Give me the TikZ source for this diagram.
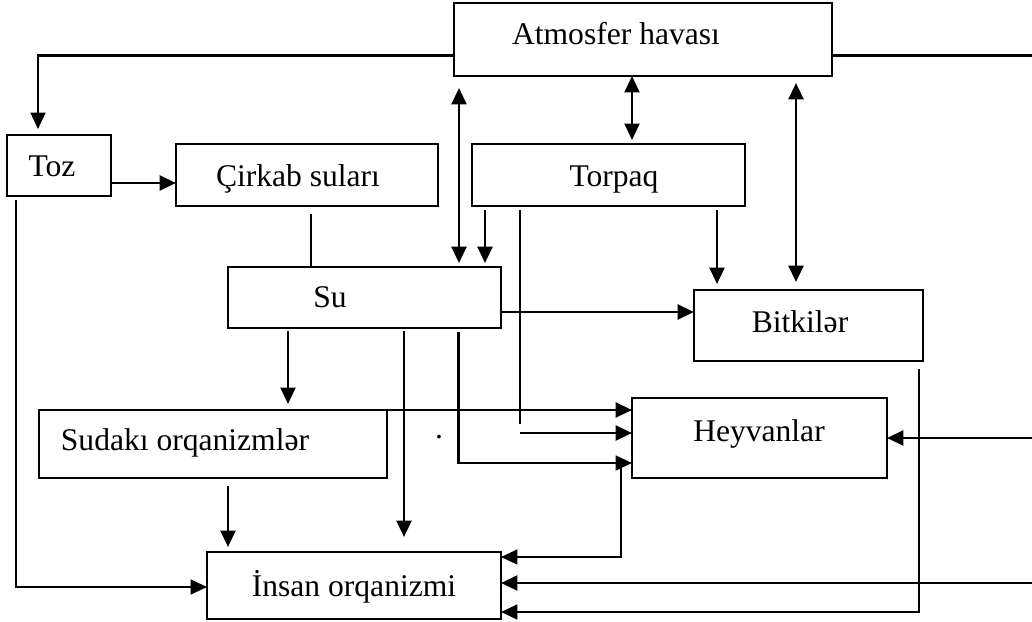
\documentclass[tikz,border=0pt]{standalone}
\usepackage{fontspec}
\setmainfont{Liberation Serif}
\usetikzlibrary{arrows.meta, calc}

\tikzset{sz/.style 2 args={minimum width=#1*0.38pt, minimum height=#2*0.38pt}}

\begin{document}
\begin{tikzpicture}[
  x=0.38pt, y=-0.38pt,
  >={Triangle[length=6.2pt, width=5.6pt]},
  font=\fontsize{12}{14}\selectfont,
  box/.style={draw, line width=0.8pt, inner sep=0pt, outer sep=0pt},
  lbl/.style={anchor=base, inner sep=0pt},
  arr/.style={->, line width=1.1pt},
  dbl/.style={<->, line width=1.1pt},
  plain/.style={line width=0.8pt}
]
\useasboundingbox (0,0) rectangle (1032,622);

% boxes
\node[box, sz={378}{73}] (atm) at (643,39.5) {};
\node[box, sz={104}{61}] (toz) at (59,165.5) {};
\node[box, sz={262}{62}] (cirkab) at (307,175) {};
\node[box, sz={273}{62}] (torpaq) at (608.5,175) {};
\node[box, sz={273}{61}] (su) at (364.5,297.5) {};
\node[box, sz={229}{71}] (bitki) at (808.5,325.5) {};
\node[box, sz={255}{80}] (heyvan) at (759.5,438) {};
\node[box, sz={348}{68}] (sudaki) at (213,444) {};
\node[box, sz={294}{67}] (insan) at (354,585.5) {};

% texts
\node[lbl] (atmT) at (616,44) {Atmosfer havası};
\node[lbl] (tozT) at (52,176) {Toz};
\node[lbl] (cirkabT) at (298,186) {Çirkab suları};
\node[lbl] (torpaqT) at (614,186) {Torpaq};
\node[lbl] (suT) at (330,307) {Su};
\node[lbl] (bitkiT) at (800,332) {Bitkilər};
\node[lbl] (heyvanT) at (759,441) {Heyvanlar};
\node[lbl] (sudakiT) at (185,450) {Sudakı orqanizmlər};
\node[lbl] (insanT) at (354,596) {İnsan orqanizmi};
\node[lbl] (dot) at (439,438) {.};

% free ends at the right rim
\coordinate (rimA) at (1036,55.5);
\coordinate (rimB) at (1036,438);
\coordinate (rimC) at (1036,583);

% connectors
\draw[arr, line width=0.9pt] ($(atm.west)+(0,16)$) -| ($(toz.north)+(-21,-6)$);
\draw[plain] ($(atm.east)+(0,16)$) -- (rimA);
\draw[arr] ($(toz.east)+(0,17.5)$) -- ($(cirkab.west)+(0,8)$);
\draw[arr, line width=0.9pt] ($(toz.south)+(-43,4)$) |- ($(insan.west)+(0,1.5)$);
\draw[plain] ($(cirkab.south)+(4,8)$) -- ($(su.north)+(-53.5,0)$);
\draw[dbl] ($(su.north)+(94.5,-4)$) -- ($(atm.south)+(-184,12)$);
\draw[arr] ($(torpaq.south)+(-123.5,4)$) -- ($(su.north)+(120.5,-4)$);
\draw[dbl] ($(atm.south)+(-11,0)$) -- ($(torpaq.north)+(23.5,-4)$);
\draw[arr] ($(torpaq.south)+(108.5,4)$) -- ($(bitki.north)+(-91.5,-6)$);
\draw[dbl] ($(atm.south)+(153,7)$) -- ($(bitki.north)+(-12.5,-8)$);
\draw[arr] ($(su.east)+(0,14.5)$) -- ($(bitki.west)+(0,-13.5)$);
\draw[plain] ($(torpaq.south)+(-88.5,4)$) -- ++(0,214);
\draw[arr] ($(heyvan.west)+(-112,-5)$) -- ($(heyvan.west)+(0,-5)$);
\draw[arr] ($(su.south)+(-76.5,3)$) -- ($(sudaki.north)+(75,-6)$);
\draw[arr] ($(su.south)+(39.5,3)$) -- ($(insan.north)+(50,-15)$);
\draw[arr, line width=0.9pt] ($(su.south)+(94,4)$) |- ($(heyvan.west)+(0,25)$);
\draw[arr] ($(sudaki.north east)+(-4,0)$) -- ($(heyvan.west)+(0,-28)$);
\draw[arr] ($(sudaki.south)+(15,8)$) -- ($(insan.north)+(-126,-5)$);
\draw[arr, line width=0.8pt] ($(heyvan.south west)+(-11,-10)$) |- ($(insan.east)+(0,-28.5)$);
\draw[arr, line width=0.8pt] ($(bitki.south east)+(-4,8)$) |- ($(insan.east)+(0,26.5)$);
\draw[arr] (rimB) -- (heyvan.east);
\draw[arr] (rimC) -- ($(insan.east)+(0,-2.5)$);
\end{tikzpicture}
\end{document}
